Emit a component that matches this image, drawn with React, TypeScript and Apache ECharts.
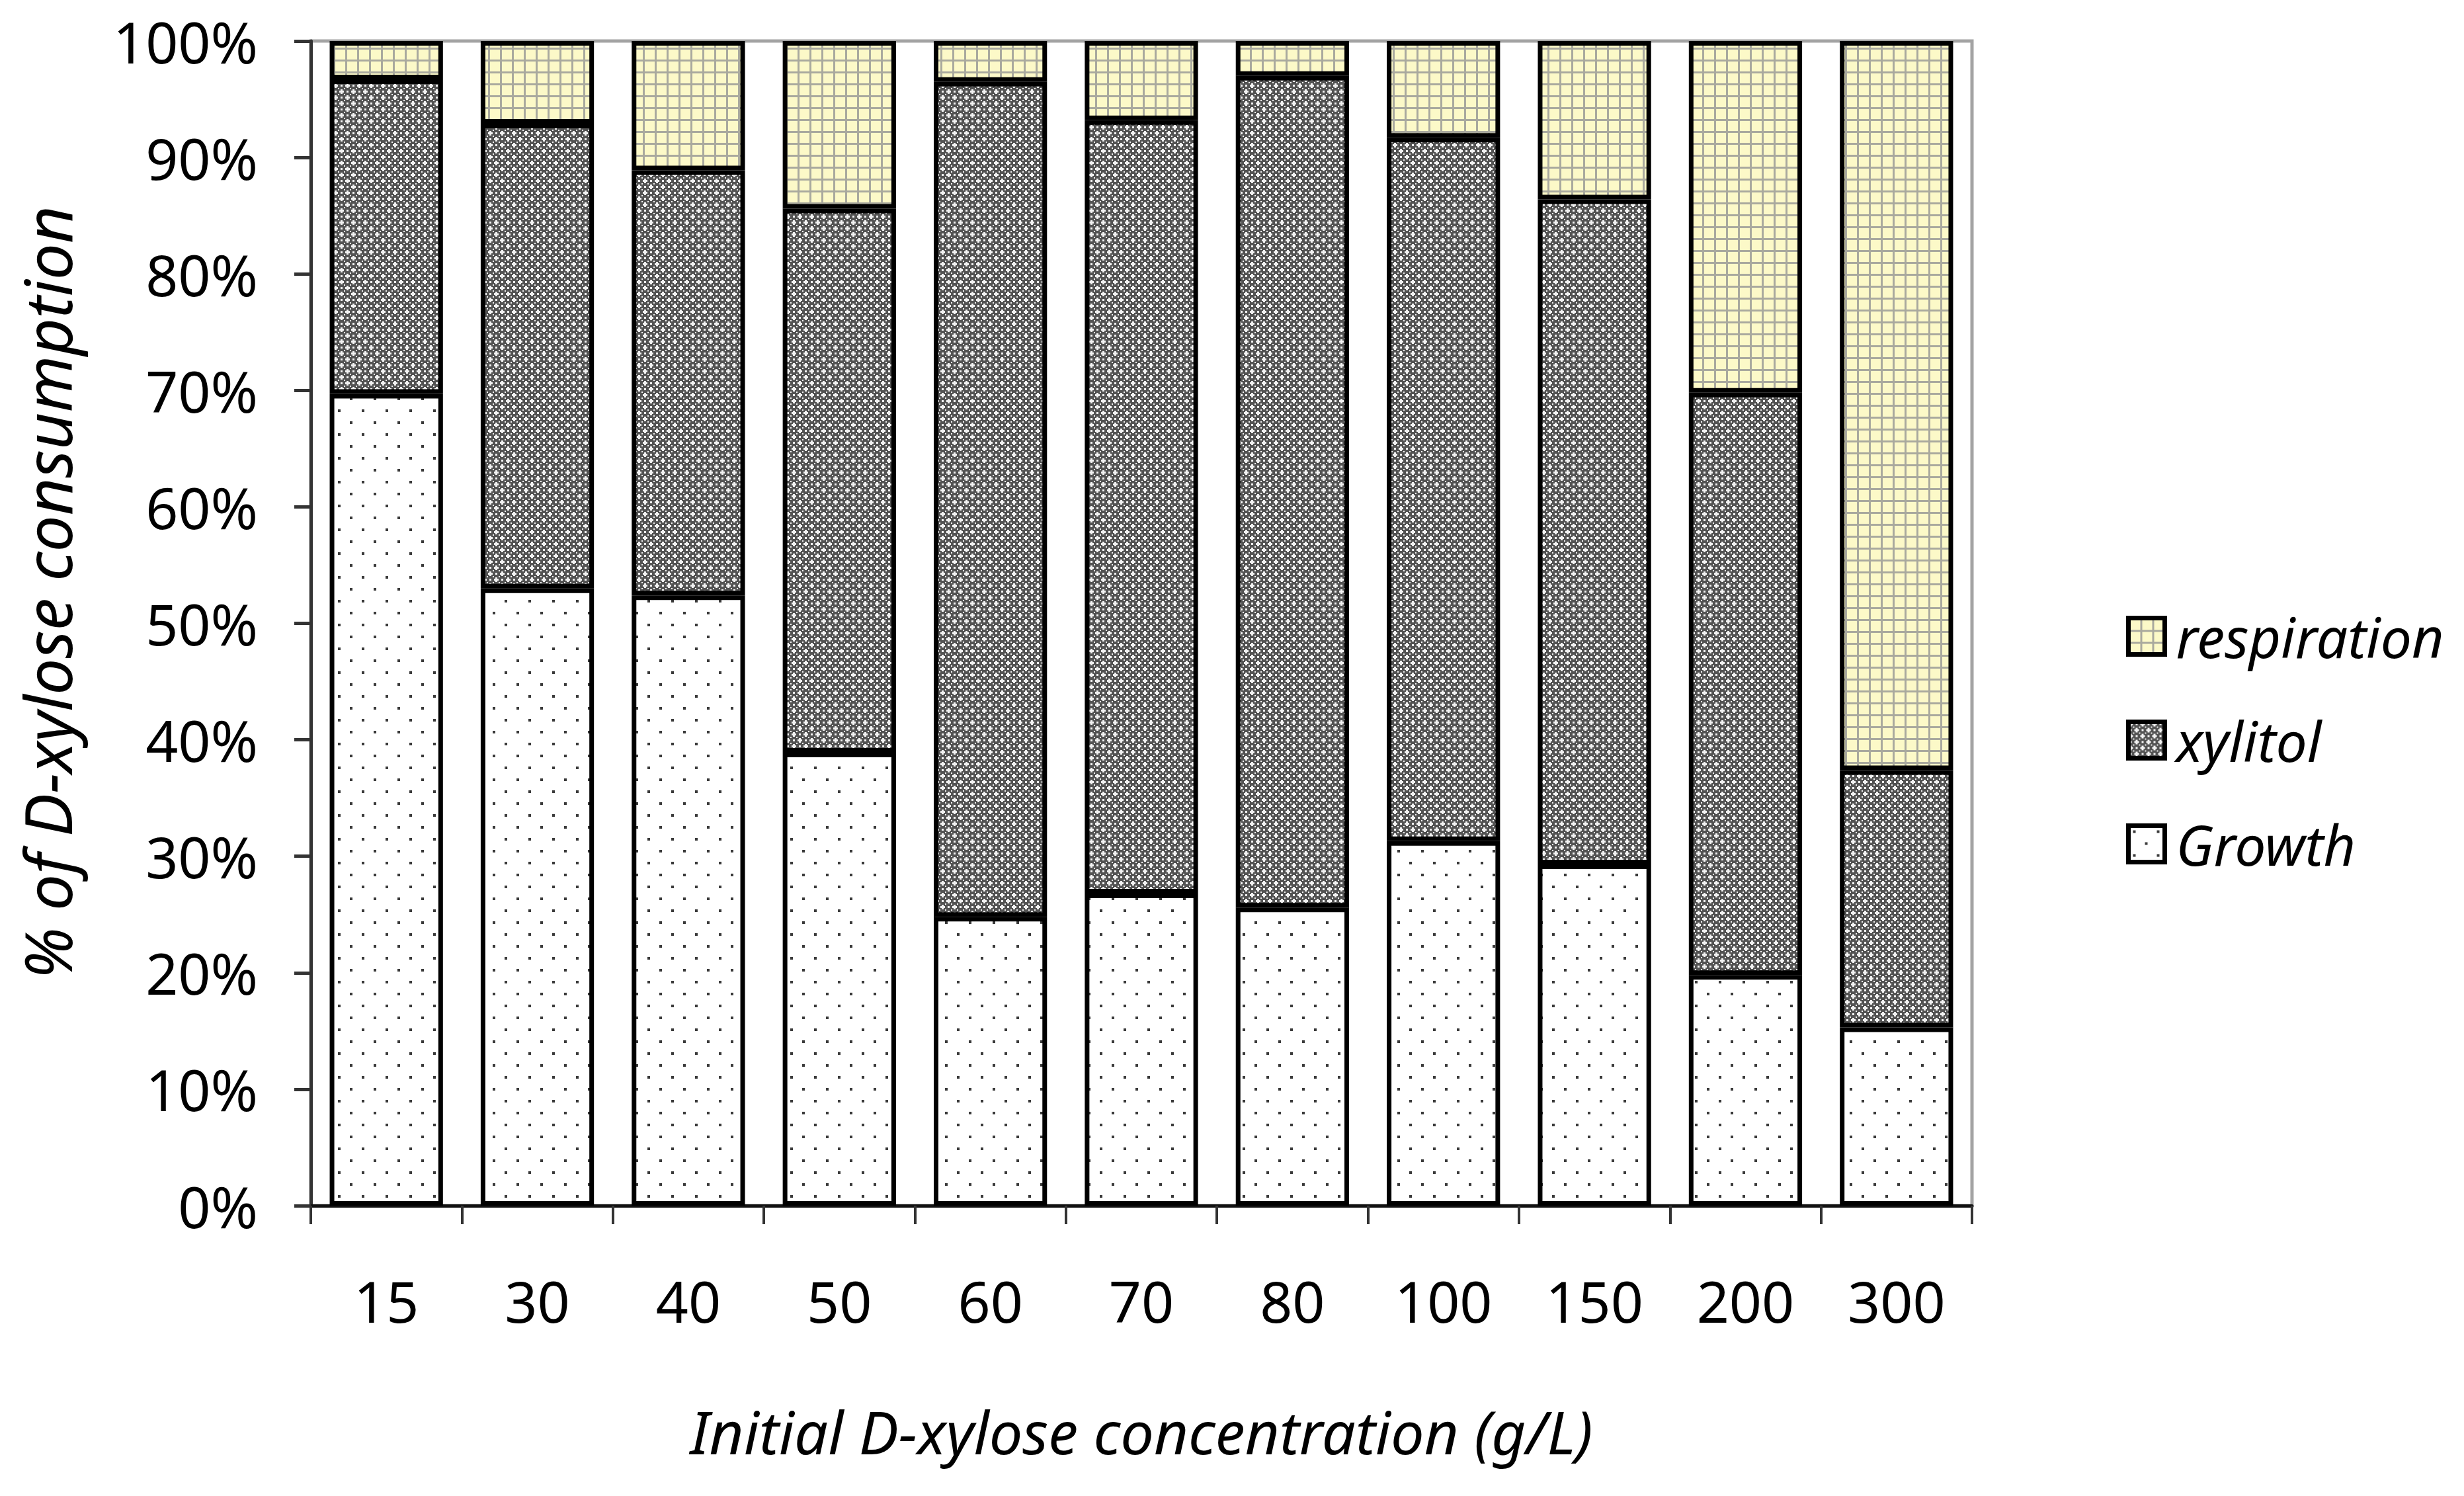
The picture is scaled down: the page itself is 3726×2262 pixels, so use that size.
import React, { useEffect, useRef } from "react";
import * as echarts from "echarts";

// ---- data (percent of D-xylose consumption) ----
const categories = ["15", "30", "40", "50", "60", "70", "80", "100", "150", "200", "300"];
const growth = [69.7, 53.0, 52.4, 38.9, 24.8, 26.8, 25.6, 31.3, 29.3, 19.8, 15.3];
const xylitol = [27.0, 39.9, 36.5, 46.7, 71.7, 66.4, 71.4, 60.4, 57.1, 50.0, 22.1];
const respiration = [3.3, 7.1, 11.1, 14.4, 3.5, 6.8, 3.0, 8.3, 13.6, 30.2, 62.6];
const seriesNames = ["Growth", "xylitol", "respiration"];
const legendOrder = ["respiration", "xylitol", "Growth"];
const yMin = 0;
const yMax = 100;
const yStep = 10;
const xTitle = "Initial D-xylose concentration (g/L)";
const yTitle = "% of D-xylose consumption";

const FONT = "Noto Sans";

function makeTile(w: number, h: number, draw: (ctx: CanvasRenderingContext2D) => void) {
  const c = document.createElement("canvas");
  c.width = w;
  c.height = h;
  const ctx = c.getContext("2d") as CanvasRenderingContext2D;
  draw(ctx);
  return { image: c.toDataURL(), repeat: "repeat", imageWidth: w, imageHeight: h };
}

const XYL_BITS = [
  "#.######",
  "...##.##",
  "#.######",
  "###.###.",
  "#####.##",
  "#.##...#",
  "#####.##",
  "###.###.",
];

function buildPatterns() {
  const growthPat = makeTile(36, 36, (ctx) => {
    ctx.fillStyle = "#ffffff";
    ctx.fillRect(0, 0, 36, 36);
    ctx.fillStyle = "#3a3a3a";
    ctx.fillRect(7, 7, 4, 4);
    ctx.fillRect(25, 25, 4, 4);
  });
  const xylPat = makeTile(18, 18, (ctx) => {
    const edges = [0, 2, 5, 7, 9, 11, 14, 16, 18];
    for (let r = 0; r < 8; r++) {
      for (let c = 0; c < 8; c++) {
        ctx.fillStyle = XYL_BITS[r][c] === "#" ? "#535353" : "#f2f2f2";
        ctx.fillRect(edges[c], edges[r], edges[c + 1] - edges[c], edges[r + 1] - edges[r]);
      }
    }
  });
  const respPat = makeTile(18, 18, (ctx) => {
    ctx.fillStyle = "#fcf9c8";
    ctx.fillRect(0, 0, 18, 18);
    ctx.fillStyle = "#a9a99e";
    ctx.fillRect(0, 0, 3, 18);
    ctx.fillRect(0, 0, 18, 3);
  });
  return { growthPat, xylPat, respPat };
}

export default function App() {
  const ref = useRef<HTMLDivElement>(null);

  useEffect(() => {
    if (!ref.current) return;
    const chart = echarts.init(ref.current, undefined, { renderer: "svg" });
    const { growthPat, xylPat, respPat } = buildPatterns();
    const pats = [growthPat, xylPat, respPat];
    const values = [growth, xylitol, respiration];

    const option: any = {
      animation: false,
      backgroundColor: "#ffffff",
      textStyle: { fontFamily: FONT },
      grid: {
        left: 470,
        top: 62,
        width: 2512,
        height: 1761,
        show: true,
        borderColor: "#a3a3a3",
        borderWidth: 5,
        backgroundColor: "transparent",
      },
      legend: {
        orient: "vertical",
        left: 3210,
        top: 912,
        data: legendOrder,
        icon: "rect",
        itemWidth: 55,
        itemHeight: 55,
        itemGap: 67,
        itemStyle: { borderColor: "#000000", borderWidth: 7 },
        textStyle: {
          fontFamily: FONT,
          fontSize: 84,
          fontStyle: "italic",
          color: "#000000",
          lineHeight: 90,
          padding: [0, 0, 0, 12],
        },
      },
      graphic: [
        {
          type: "text",
          x: 71,
          y: 896,
          rotation: Math.PI / 2,
          silent: true,
          style: {
            text: yTitle,
            fontSize: 98,
            fontStyle: "italic",
            fontFamily: FONT,
            fill: "#000000",
            align: "center",
            verticalAlign: "middle",
          },
        },
      ],
      xAxis: {
        type: "category",
        data: categories,
        axisLine: { show: true, lineStyle: { color: "#111111", width: 5 } },
        axisTick: { show: true, length: 28, lineStyle: { color: "#333333", width: 4 } },
        axisLabel: { margin: 100, fontSize: 86, color: "#000000", fontFamily: FONT },
        splitLine: { show: false },
        name: xTitle,
        nameLocation: "middle",
        nameGap: 296,
        nameTextStyle: { fontSize: 90, fontStyle: "italic", color: "#000000", fontFamily: FONT },
      },
      yAxis: {
        type: "value",
        min: yMin,
        max: yMax,
        interval: yStep,
        axisLine: { show: true, lineStyle: { color: "#333333", width: 5 } },
        axisTick: { show: true, length: 25, lineStyle: { color: "#333333", width: 5 } },
        axisLabel: { formatter: "{value}%", margin: 80, fontSize: 86, color: "#000000", fontFamily: FONT },
        splitLine: { show: false },
      },
      series: seriesNames.map((name, i) => ({
        name,
        type: "bar",
        stack: "total",
        barCategoryGap: "25%",
        data: values[i],
        itemStyle: { color: pats[i], borderColor: "#000000", borderWidth: 7 },
        emphasis: { disabled: true },
      })),
    };
    chart.setOption(option);
    return () => chart.dispose();
  }, []);

  return (
    <div
      ref={ref}
      style={{ position: "absolute", left: 0, top: 0, width: 3726, height: 2262, background: "#fff" }}
    />
  );
}
